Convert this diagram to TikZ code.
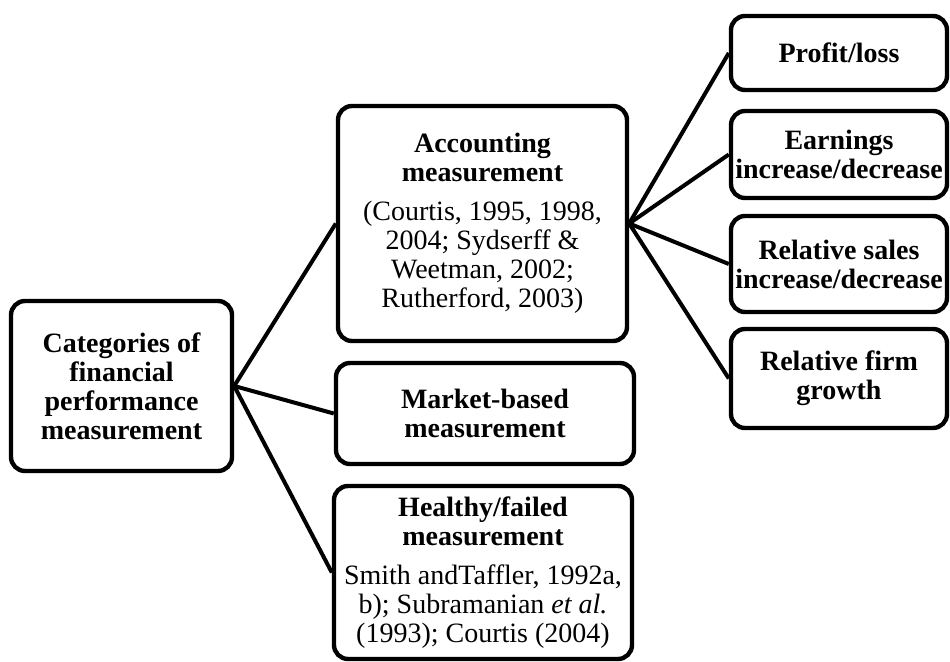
\documentclass[tikz,border=0pt]{standalone}
\usepackage{fontspec}
\setmainfont{Liberation Serif}
\usepackage{tikz}

\begin{document}
\begin{tikzpicture}[x=0.5pt, y=-0.5pt,
    box/.style={draw, line width=2.2pt, rounded corners=7pt, fill=white, align=center, inner sep=2pt, font=\fontsize{14}{14.5}\selectfont},
    headbox/.style={box, font=\fontsize{14}{14.5}\selectfont\bfseries}]
\useasboundingbox (0, 0) rectangle (950, 662);

\begin{scope}[every node/.style={headbox}]
    \node[minimum width=110.5pt, minimum height=85pt] (cat) at (121.5, 386) {Categories of\\ financial\\ performance\\ measurement};
    \node[minimum width=149pt, minimum height=50.5pt] (mkt) at (485, 413.5) {Market-based\\ measurement};

    \node[minimum width=108pt, minimum height=37pt] (prf) at (839, 53) {Profit/loss};
    \node[minimum width=108pt, minimum height=43.5pt] (ern) at (839, 154.5) {Earnings\\ increase/decrease};
    \node[minimum width=108pt, minimum height=48pt] (sal) at (839, 264) {Relative sales\\ increase/decrease};
    \node[minimum width=108pt, minimum height=49.5pt] (grw) at (839, 378.5) {Relative firm\\ growth};
\end{scope}

\begin{scope}[every node/.style={box}]
    \node[minimum width=144.5pt, minimum height=117.5pt] (acc) at (482.5, 223.5) {\textbf{Accounting}\\ \textbf{measurement}\\[5pt] (Courtis, 1995, 1998,\\ 2004; Sydserff \&\\ Weetman, 2002;\\ Rutherford, 2003)};
    \node[minimum width=149pt, minimum height=86.5pt] (hlt) at (483, 572.5) {\textbf{Healthy/failed}\\ \textbf{measurement}\\[5pt] Smith andTaffler, 1992a,\\ b); Subramanian \textit{et al.}\\ (1993); Courtis (2004)};
\end{scope}

\begin{scope}[every edge/.style={draw, line width=2pt}]
    \path [-] (cat.east) edge (acc.west);
    \path [-] (cat.east) edge (mkt.west);
    \path [-] (cat.east) edge (hlt.west);

    \path [-] (acc.east) edge (prf.west);
    \path [-] (acc.east) edge (ern.west);
    \path [-] (acc.east) edge (sal.west);
    \path [-] (acc.east) edge (grw.west);
\end{scope}

\end{tikzpicture}
\end{document}
